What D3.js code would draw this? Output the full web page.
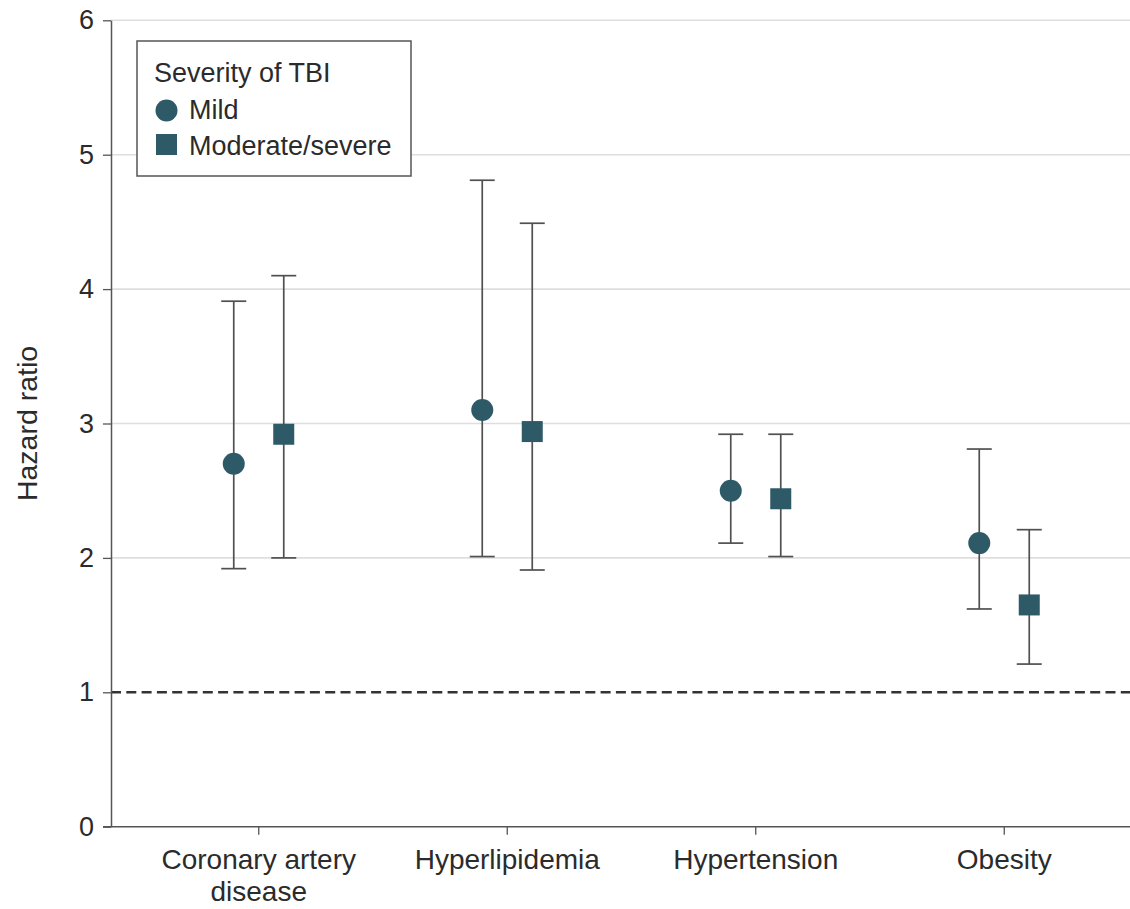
<!DOCTYPE html>
<html>
<head>
<meta charset="utf-8">
<script src="https://cdn.jsdelivr.net/npm/d3@7"></script>
<style>
  html, body { margin: 0; padding: 0; background: #fff; }
  svg { display: block; }
  text { font-family: "Liberation Sans", Arial, sans-serif; fill: #2b2b2b; }
</style>
</head>
<body>
<svg id="chart" width="1130" height="909"></svg>
<script>
// ---- data ----
const categories = ["Coronary artery disease", "Hyperlipidemia", "Hypertension", "Obesity"];
const categoryLabels = [["Coronary artery", "disease"], ["Hyperlipidemia"], ["Hypertension"], ["Obesity"]];
const mildHR   = [2.70, 3.10, 2.50, 2.11];
const mildLow  = [1.92, 2.01, 2.11, 1.62];
const mildHigh = [3.91, 4.81, 2.92, 2.81];
const modHR    = [2.92, 2.94, 2.44, 1.65];
const modLow   = [2.00, 1.91, 2.01, 1.21];
const modHigh  = [4.10, 4.49, 2.92, 2.21];
const yTicks = [0, 1, 2, 3, 4, 5, 6];
const gridValues = [2, 3, 4, 5, 6];
const seriesNames = ["Mild", "Moderate/severe"];
const legendTitle = "Severity of TBI";
const yTitle = "Hazard ratio";

// ---- layout ----
const svg = d3.select("#chart");
const W = 1130;
const axisX = 111;
const y = d3.scaleLinear().domain([0, 6]).range([826.7, 20.3]);
const x = d3.scaleBand().domain(categories).range([134.5, 1128.5]);
const cx = c => x(c) + x.bandwidth() / 2;
const offsets = [-25, 25];
const markColor = "#2e5a68";
const barColor = "#505050";

// gridlines
svg.append("g").selectAll("line").data(gridValues).join("line")
  .attr("x1", axisX).attr("x2", W)
  .attr("y1", d => y(d)).attr("y2", d => y(d))
  .attr("stroke", "#dedede").attr("stroke-width", 1.6);

// reference line at 1
svg.append("line")
  .attr("x1", axisX).attr("x2", W)
  .attr("y1", y(1)).attr("y2", y(1))
  .attr("stroke", "#333").attr("stroke-width", 2.4)
  .attr("stroke-dasharray", "10,5.3");

// y axis
const yAxis = svg.append("g").attr("transform", `translate(${axisX},0)`)
  .call(d3.axisLeft(y).tickValues(yTicks).tickFormat(d3.format("d")).tickSize(8).tickSizeOuter(0).tickPadding(9));
yAxis.select(".domain").attr("stroke", "#555").attr("stroke-width", 1.5);
yAxis.selectAll(".tick line").attr("stroke", "#555").attr("stroke-width", 1.3);
yAxis.selectAll(".tick text").attr("font-size", 27).attr("font-family", "Liberation Sans").attr("fill", "#2b2b2b");

// x axis
const xAxis = svg.append("g").attr("transform", `translate(0,${y(0)})`)
  .call(d3.axisBottom(x).tickSize(8).tickSizeOuter(0).tickFormat(""));
xAxis.select(".domain").remove();
xAxis.selectAll(".tick line").attr("stroke", "#555").attr("stroke-width", 1.3);
svg.append("line").attr("x1", axisX - 8).attr("x2", W)
  .attr("y1", y(0)).attr("y2", y(0)).attr("stroke", "#555").attr("stroke-width", 1.5);

// category labels
const lab = svg.append("g").selectAll("text").data(categories).join("text")
  .attr("text-anchor", "middle").attr("font-size", 28)
  .attr("x", d => cx(d)).attr("y", 869);
lab.each(function(d, i) {
  const t = d3.select(this);
  categoryLabels[i].forEach((line, k) => {
    t.append("tspan").attr("x", cx(d)).attr("dy", k === 0 ? 0 : 32).text(line);
  });
});

// y title
svg.append("text")
  .attr("transform", `translate(37,${y(3)}) rotate(-90)`)
  .attr("text-anchor", "middle").attr("font-size", 28.5)
  .text(yTitle);

// series
const series = [
  { name: seriesNames[0], hr: mildHR, lo: mildLow, hi: mildHigh, shape: "circle" },
  { name: seriesNames[1], hr: modHR, lo: modLow, hi: modHigh, shape: "square" }
];
const capW = 25;
series.forEach((s, si) => {
  const g = svg.append("g");
  const rows = categories.map((c, i) => ({ c, hr: s.hr[i], lo: s.lo[i], hi: s.hi[i], px: cx(c) + offsets[si] }));
  g.selectAll("line.v").data(rows).join("line").attr("class", "v")
    .attr("x1", d => d.px).attr("x2", d => d.px)
    .attr("y1", d => y(d.lo)).attr("y2", d => y(d.hi))
    .attr("stroke", barColor).attr("stroke-width", 1.7);
  ["lo", "hi"].forEach(k => {
    g.selectAll("line.c" + k).data(rows).join("line").attr("class", "c" + k)
      .attr("x1", d => d.px - capW / 2).attr("x2", d => d.px + capW / 2)
      .attr("y1", d => y(d[k])).attr("y2", d => y(d[k]))
      .attr("stroke", barColor).attr("stroke-width", 1.7);
  });
  if (s.shape === "circle") {
    g.selectAll("circle").data(rows).join("circle")
      .attr("cx", d => d.px).attr("cy", d => y(d.hr)).attr("r", 11)
      .attr("fill", markColor);
  } else {
    g.selectAll("rect").data(rows).join("rect")
      .attr("x", d => d.px - 10.5).attr("y", d => y(d.hr) - 10.5)
      .attr("width", 21).attr("height", 21)
      .attr("fill", markColor);
  }
});

// legend
const lg = svg.append("g");
lg.append("rect").attr("x", 137).attr("y", 41).attr("width", 274).attr("height", 135)
  .attr("fill", "#fff").attr("stroke", "#555").attr("stroke-width", 1.5);
lg.append("text").attr("x", 154).attr("y", 82).attr("font-size", 27).text(legendTitle);
lg.append("circle").attr("cx", 166.5).attr("cy", 110.5).attr("r", 11).attr("fill", markColor);
lg.append("text").attr("x", 189).attr("y", 119).attr("font-size", 27).text(seriesNames[0]);
lg.append("rect").attr("x", 156).attr("y", 134).attr("width", 21).attr("height", 21).attr("fill", markColor);
lg.append("text").attr("x", 189).attr("y", 155).attr("font-size", 27).text(seriesNames[1]);
</script>
</body>
</html>
